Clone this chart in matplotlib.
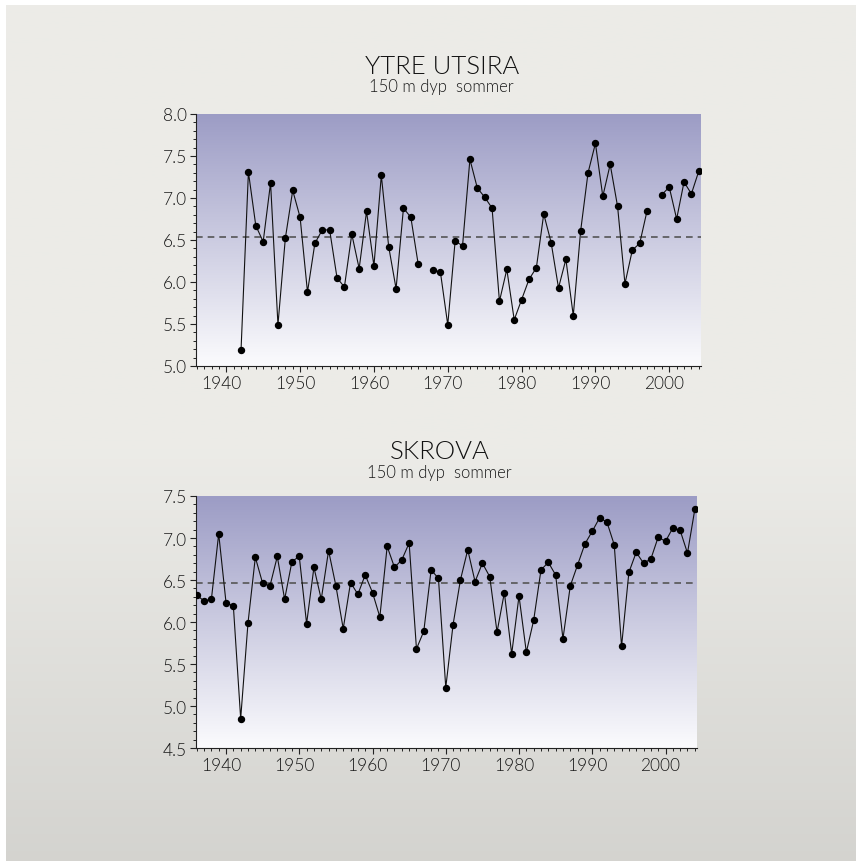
import numpy as np
import matplotlib
matplotlib.use("Agg")
import matplotlib.pyplot as plt
from matplotlib.ticker import MultipleLocator, FormatStrFormatter
from matplotlib.transforms import ScaledTranslation

plt.rcParams['font.family'] = ['Lato', 'DejaVu Sans']
plt.rcParams['font.weight'] = 300

nan = np.nan

# YTRE UTSIRA, 150 m dyp sommer
utsira_years = list(range(1942, 2005))
utsira_temp = [5.19, 7.31, 6.67, 6.48, 7.18, 5.49, 6.52, 7.09, 6.77, 5.88,
               6.46, 6.62, 6.62, 6.05, 5.94, 6.57, 6.16, 6.84, 6.19, 7.27,
               6.42, 5.92, 6.88, 6.77, 6.21, nan, 6.14, 6.12, 5.49, 6.49,
               6.43, 7.46, 7.12, 7.01, 6.88, 5.77, 6.15, 5.55, 5.79, 6.03,
               6.17, 6.81, 6.47, 5.93, 6.27, 5.60, 6.61, 7.30, 7.65, 7.02,
               7.40, 6.90, 5.98, 6.38, 6.46, 6.85, nan, 7.04, 7.13, 6.75,
               7.19, 7.05, 7.32]
utsira_mean = 6.53

# SKROVA, 150 m dyp sommer
skrova_years = list(range(1936, 2005))
skrova_temp = [6.32, 6.25, 6.27, 7.05, 6.23, 6.19, 4.85, 5.99, 6.77, 6.46,
               6.43, 6.78, 6.27, 6.72, 6.78, 5.98, 6.65, 6.27, 6.85, 6.43,
               5.92, 6.47, 6.33, 6.56, 6.35, 6.06, 6.90, 6.65, 6.74, 6.94,
               5.68, 5.89, 6.62, 6.52, 5.22, 5.97, 6.50, 6.86, 6.48, 6.70,
               6.54, 5.88, 6.35, 5.62, 6.31, 5.64, 6.02, 6.62, 6.71, 6.56,
               5.80, 6.43, 6.68, 6.93, 7.08, 7.24, 7.19, 6.92, 5.71, 6.59,
               6.83, 6.70, 6.75, 7.01, 6.96, 7.12, 7.09, 6.82, 7.34]
skrova_mean = 6.47

fig = plt.figure(figsize=(8.56, 8.62), dpi=100)
fig.patch.set_facecolor('white')

# page background: light grey panel that darkens towards the bottom
bg = fig.add_axes([6 / 856, 0, 850 / 856, 856 / 862], zorder=-10)
rows = np.linspace(0, 1, 400)
shade = np.where(rows < 0.52, 236, 236 - (rows - 0.52) / 0.48 * 24)
grad = np.stack([shade, shade - 0.5, shade - 4.5], axis=-1)[:, None, :] / 255
bg.imshow(grad, aspect='auto', extent=[0, 1, 1, 0])
bg.axis('off')

# vertical lavender-to-white gradient used inside each plot
top_c = np.array([156, 156, 197]) / 255
bot_c = np.array([251, 251, 253]) / 255
t = np.linspace(0, 1, 256)[:, None]
plot_grad = (top_c * (1 - t) + bot_c * t)[:, None, :]

nudge = ScaledTranslation(-5 / 100, 0, fig.dpi_scale_trans)


def draw_panel(rect, years, temps, mean, ylo, yhi, title, title_dy, sub_dy):
    ax = fig.add_axes(rect)
    ax.set_xlim(1935.9, 2004.3)
    ax.set_ylim(ylo, yhi)
    ax.imshow(plot_grad, aspect='auto', extent=[1935.9, 2004.3, ylo, yhi],
              zorder=0)
    ax.axhline(mean, color='#555555', lw=1.2, ls=(0, (4, 3)), zorder=2)
    ax.plot(years, temps, color='#111111', lw=0.8, marker='o',
            markersize=4.3, markerfacecolor='black', markeredgecolor='black',
            zorder=3)
    for s in ['top', 'right']:
        ax.spines[s].set_visible(False)
    for s in ['left', 'bottom']:
        ax.spines[s].set_linewidth(0.8)
        ax.spines[s].set_color('#222222')
    ax.xaxis.set_major_locator(MultipleLocator(10))
    ax.xaxis.set_minor_locator(MultipleLocator(1))
    ax.yaxis.set_major_locator(MultipleLocator(0.5))
    ax.yaxis.set_minor_locator(MultipleLocator(0.1))
    ax.yaxis.set_major_formatter(FormatStrFormatter('%.1f'))
    ax.tick_params(which='major', length=4.5, width=0.8, color='#222222',
                   labelsize=12.5, labelcolor='#1a1a1a', pad=2)
    ax.tick_params(which='minor', length=2.4, width=0.7, color='#222222')
    for lab in ax.get_xticklabels():
        lab.set_transform(lab.get_transform() + nudge)
    mid = rect[0] + rect[2] / 2 - 0.008
    top = rect[1] + rect[3]
    fig.text(mid, top + title_dy / 862, title, ha='center', va='center',
             fontsize=18.5, color='#111111')
    fig.text(mid, top + sub_dy / 862, '150 m dyp  sommer', ha='center',
             va='center', fontsize=12, color='#1a1a1a')
    return ax


draw_panel([196 / 856, 1 - 367 / 862, 505 / 856, 252 / 862],
           utsira_years, utsira_temp, utsira_mean, 5.0, 8.0, 'YTRE UTSIRA',
           48, 28)
draw_panel([196 / 856, 1 - 749 / 862, 501 / 856, 252 / 862],
           skrova_years, skrova_temp, skrova_mean, 4.5, 7.5, 'SKROVA',
           45, 24)

fig.savefig('out.png', dpi=100)
